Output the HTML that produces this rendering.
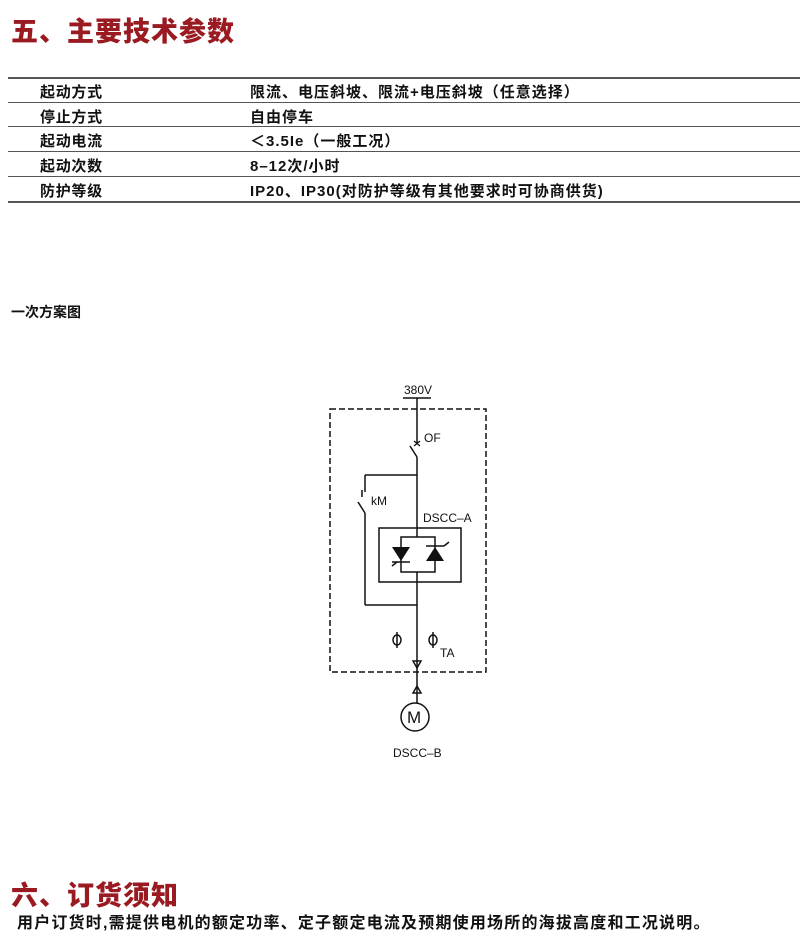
<!DOCTYPE html>
<html><head><meta charset="utf-8"><style>
body{margin:0;width:800px;height:945px;background:#fff;position:relative;font-family:"Liberation Sans","Noto Sans CJK SC",sans-serif;color:#111;overflow:hidden}
.t{position:absolute;white-space:nowrap}
.h{color:#9a1a22;font-weight:900;font-size:27px;letter-spacing:1px}
.r{position:absolute;left:8px;width:792px;height:2px;background:#555}
.c{font-size:15px;font-weight:bold;letter-spacing:0.7px}
.d{font-size:15px;font-weight:bold;letter-spacing:1px}
</style></head><body>
<div class="t h" style="left:11px;top:10px">五、主要技术参数</div>
<div class="r" style="top:77px"></div>
<div class="r" style="top:102px;height:1px"></div>
<div class="r" style="top:126px;height:1px"></div>
<div class="r" style="top:151px;height:1px"></div>
<div class="r" style="top:176px;height:1px"></div>
<div class="r" style="top:201px"></div>
<div class="t c" style="left:40px;top:81px">起动方式</div><div class="t d" style="left:250px;top:81px">限流、电压斜坡、限流+电压斜坡（任意选择）</div>
<div class="t c" style="left:40px;top:106px">停止方式</div><div class="t d" style="left:250px;top:106px">自由停车</div>
<div class="t c" style="left:40px;top:130px">起动电流</div><div class="t d" style="left:250px;top:130px">＜3.5Ie（一般工况）</div>
<div class="t c" style="left:40px;top:155px">起动次数</div><div class="t d" style="left:250px;top:155px">8–12次/小时</div>
<div class="t c" style="left:40px;top:180px">防护等级</div><div class="t d" style="left:250px;top:180px">IP20、IP30(对防护等级有其他要求时可协商供货)</div>
<div class="t" style="left:11px;top:302px;font-size:14px;font-weight:bold">一次方案图</div>
<svg style="position:absolute;left:0;top:0" width="800" height="945">
<g stroke="#111" stroke-width="1.5" fill="none">
<rect x="330" y="409" width="156" height="263" stroke-dasharray="6,3"/>
<line x1="403" y1="398" x2="431" y2="398"/>
<line x1="417" y1="398" x2="417" y2="443"/>
<line x1="410" y1="446" x2="417" y2="457"/>
<line x1="417" y1="457" x2="417" y2="537"/>
<line x1="365" y1="475" x2="417" y2="475"/>
<line x1="365" y1="475" x2="365" y2="492"/>
<line x1="358" y1="502" x2="365" y2="513"/>
<line x1="365" y1="513" x2="365" y2="605"/>
<line x1="365" y1="605" x2="417" y2="605"/>
<rect x="379" y="528" width="82" height="54"/>
<rect x="401" y="537" width="34" height="35"/>
<line x1="417" y1="572" x2="417" y2="703"/>
<circle cx="415" cy="717" r="14"/>
<line x1="397" y1="632" x2="397" y2="648"/><ellipse cx="397" cy="640" rx="4" ry="5"/>
<line x1="433" y1="632" x2="433" y2="648"/><ellipse cx="433" cy="640" rx="4" ry="5"/>
<polygon points="413,661 421,661 417,668"/>
<polygon points="413,693 421,693 417,686"/>
<line x1="392" y1="562" x2="410" y2="562"/><line x1="392" y1="566" x2="397" y2="562"/>
<line x1="426" y1="546" x2="444" y2="546"/><line x1="444" y1="546" x2="449" y2="542"/>
<line x1="362" y1="490" x2="362" y2="497"/>
</g>
<path d="M414 441l6 5M420 441l-6 5" stroke="#111" stroke-width="1.2"/>
<polygon points="392,547 410,547 401,561" fill="#111"/>
<polygon points="426,561 444,561 435,547" fill="#111"/>
<g font-family="Liberation Sans,sans-serif" font-size="12" fill="#111">
<text x="404" y="394">380V</text>
<text x="424" y="442">OF</text>
<text x="371" y="505">kM</text>
<text x="423" y="522">DSCC–A</text>
<text x="440" y="657">TA</text>
<text x="407" y="723" font-size="17">M</text>
<text x="393" y="757">DSCC–B</text>
</g>
</svg>
<div class="t h" style="left:11px;top:874px">六、订货须知</div>
<div class="t" style="left:17px;top:909px;font-size:16px;letter-spacing:1.2px;font-weight:bold">用户订货时,需提供电机的额定功率、定子额定电流及预期使用场所的海拔高度和工况说明。</div>
</body></html>
